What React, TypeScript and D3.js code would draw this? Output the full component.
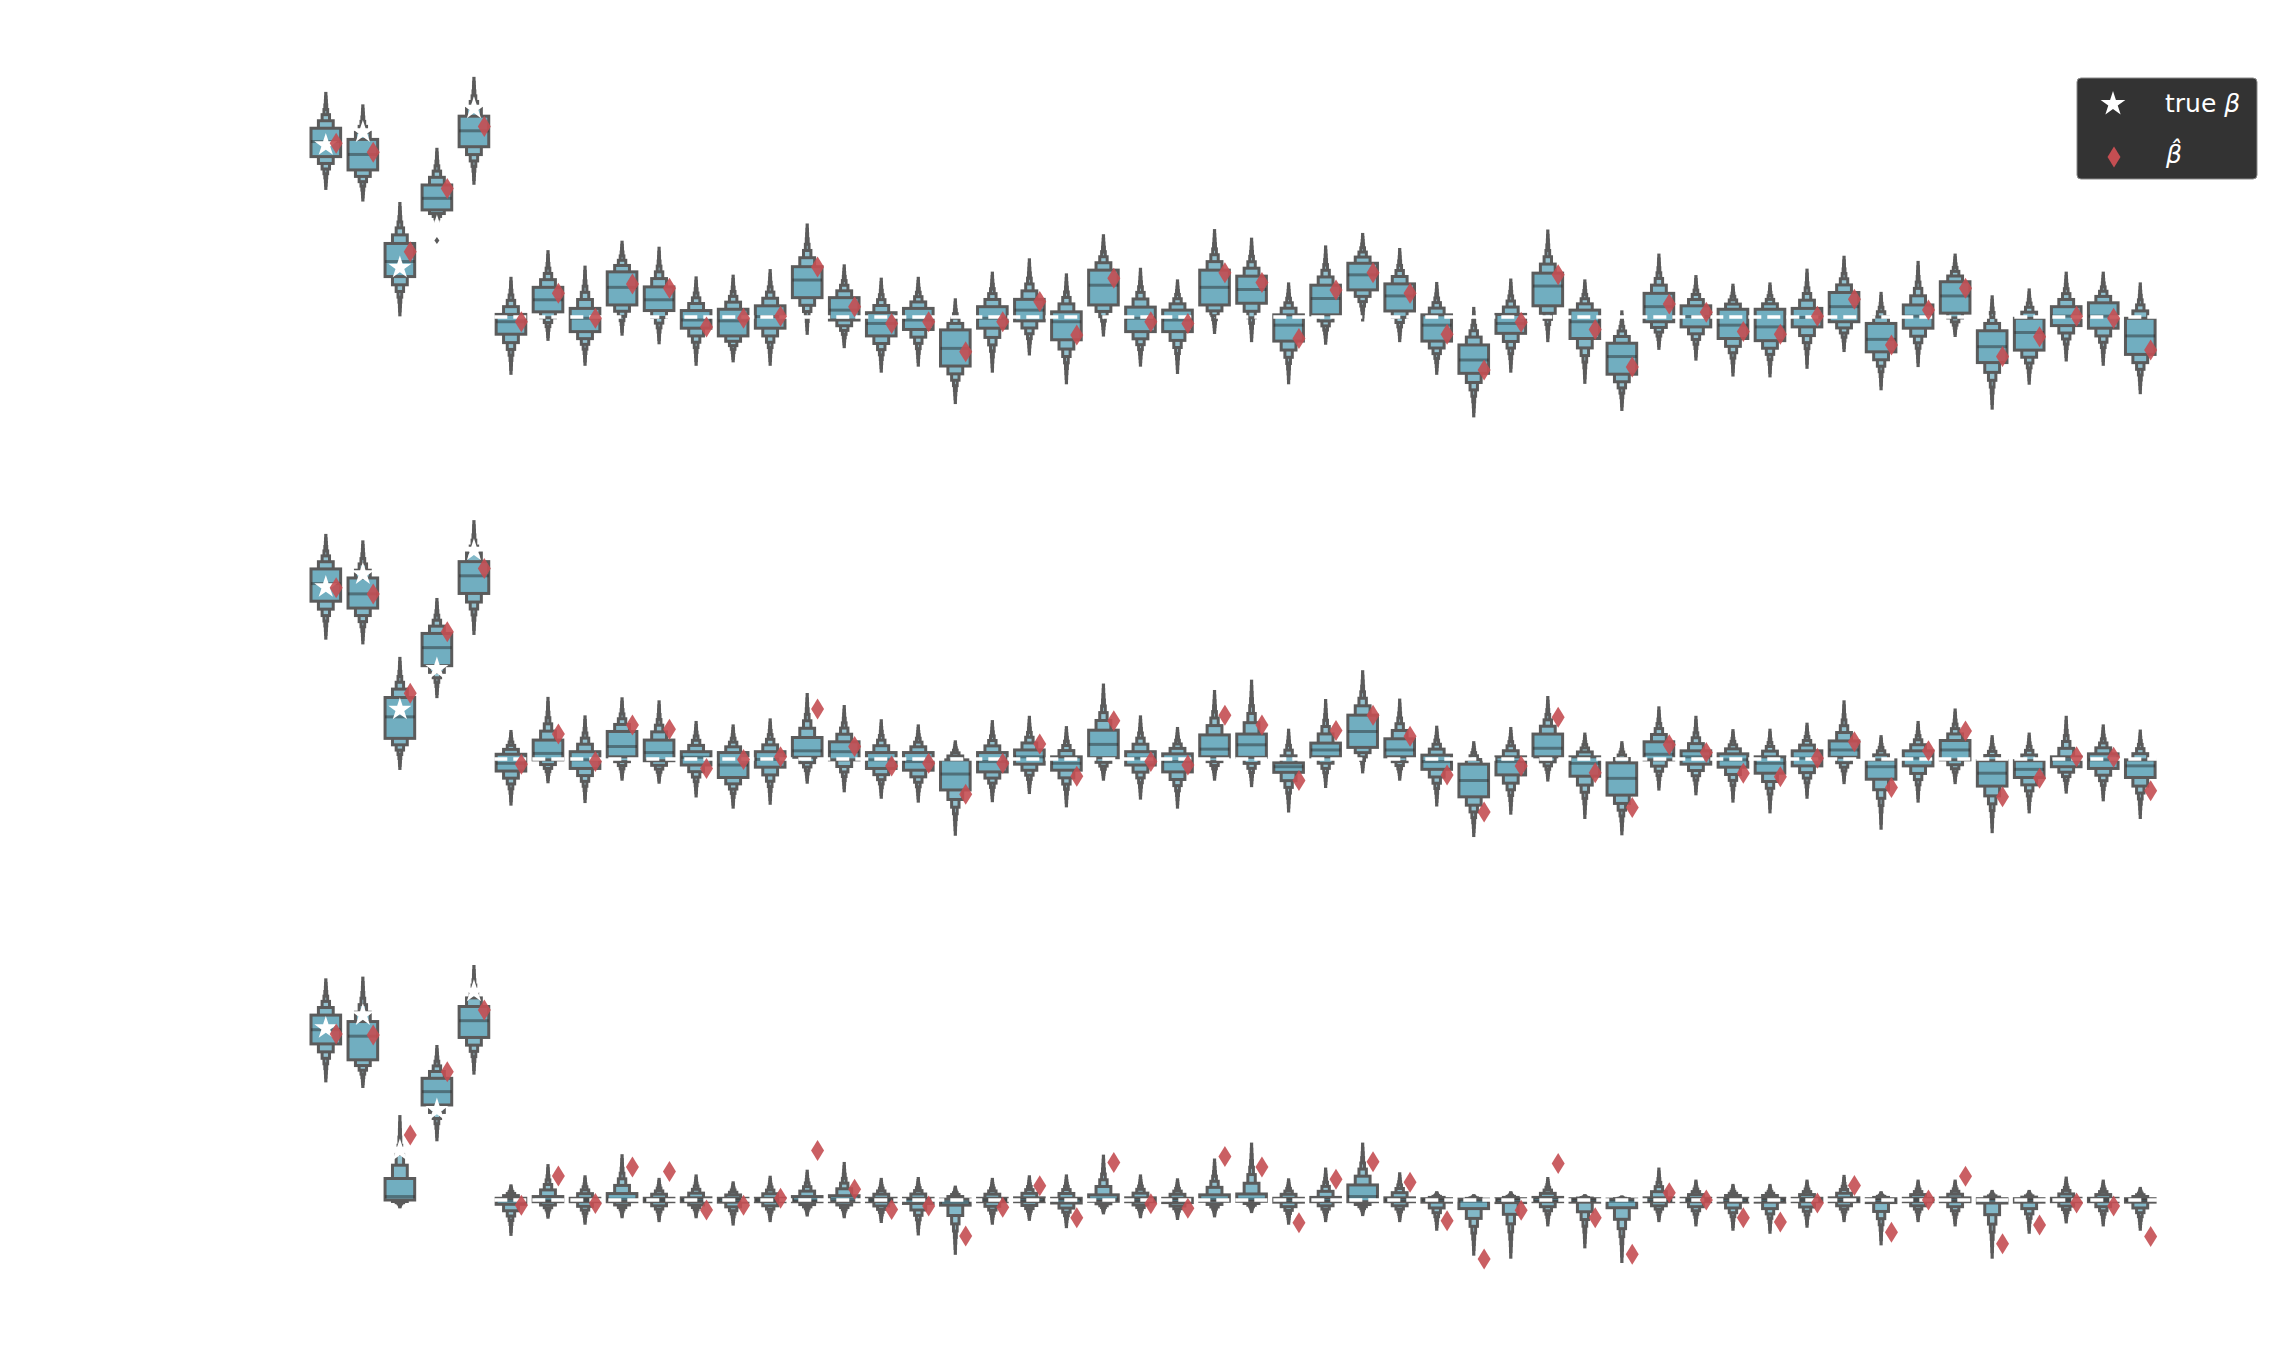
import React from 'react';
import * as d3 from 'd3';

const WIDTH = 2288;
const HEIGHT = 1350;

// true coefficients (white stars); zeros are shown by the dashed white line
const trueBeta = [4.0, 4.3, 1.15, 2.1, 4.85,
  0, 0, 0, 0, 0, 0, 0, 0, 0, 0, 0, 0, 0, 0, 0, 0, 0, 0, 0, 0, 0, 0, 0, 0, 0,
  0, 0, 0, 0, 0, 0, 0, 0, 0, 0, 0, 0, 0, 0, 0, 0, 0, 0, 0, 0];

// ---- panel 1 ----
const p1Lo = [2.99, 2.72, 0.05, 2.10, 3.11, -1.31, -0.52, -1.10, -0.40, -0.60, -1.10, -1.02, -1.10, -0.38, -0.69, -1.26, -1.12, -1.99, -1.26, -0.86, -1.53, -0.42, -1.12, -1.29, -0.36, -0.55, -1.53, -0.61, -0.07, -0.55, -1.31, -2.30, -1.26, -0.55, -1.52, -2.15, -0.73, -0.98, -1.35, -1.37, -1.17, -0.78, -1.67, -1.13, -0.43, -2.12, -1.54, -1.00, -1.10, -1.76];
const p1Q1 = [3.73, 3.42, 0.94, 2.49, 3.96, -0.40, 0.12, -0.34, 0.28, 0.15, -0.26, -0.44, -0.26, 0.45, -0.07, -0.44, -0.29, -1.14, -0.26, -0.09, -0.53, 0.28, -0.34, -0.34, 0.28, 0.32, -0.56, 0.05, 0.63, 0.14, -0.56, -1.31, -0.38, 0.26, -0.50, -1.33, -0.11, -0.23, -0.50, -0.55, -0.23, -0.11, -0.81, -0.26, 0.09, -1.06, -0.77, -0.20, -0.26, -0.87];
const p1Med = [4.08, 3.78, 1.29, 2.76, 4.33, -0.11, 0.40, -0.03, 0.69, 0.40, -0.07, -0.09, 0.01, 0.86, 0.16, -0.15, -0.07, -0.73, -0.03, 0.16, -0.11, 0.74, -0.03, -0.07, 0.69, 0.64, -0.19, 0.43, 0.98, 0.49, -0.19, -1.00, -0.15, 0.72, -0.11, -0.92, 0.24, 0.01, -0.19, -0.23, -0.01, 0.24, -0.52, 0.02, 0.49, -0.69, -0.36, 0.02, 0.02, -0.44];
const p1Q3 = [4.39, 4.13, 1.71, 3.07, 4.67, 0.06, 0.69, 0.20, 1.05, 0.70, 0.15, 0.18, 0.26, 1.17, 0.45, 0.10, 0.20, -0.30, 0.24, 0.41, 0.12, 1.09, 0.23, 0.16, 1.09, 0.95, 0.05, 0.74, 1.25, 0.77, 0.05, -0.65, 0.06, 1.02, 0.16, -0.61, 0.55, 0.26, 0.18, 0.18, 0.20, 0.57, -0.15, 0.28, 0.82, -0.32, -0.03, 0.24, 0.33, -0.03];
const p1Hi = [5.20, 4.91, 2.64, 3.90, 5.55, 0.90, 1.52, 1.16, 1.74, 1.60, 0.91, 0.95, 1.08, 2.14, 1.19, 0.88, 0.90, 0.40, 1.02, 1.33, 0.98, 1.89, 1.11, 0.84, 2.01, 1.81, 0.77, 1.63, 1.92, 1.57, 0.78, 0.20, 0.86, 2.00, 0.84, 0.12, 1.44, 0.94, 0.74, 0.77, 1.09, 1.39, 0.55, 1.27, 1.44, 0.47, 0.63, 1.02, 1.02, 0.77];
const p1Hat = [4.04, 3.83, 1.52, 2.99, 4.43, -0.11, 0.55, -0.03, 0.77, 0.67, -0.23, -0.03, 0.02, 1.16, 0.24, -0.15, -0.11, -0.81, -0.11, 0.36, -0.42, 0.90, -0.11, -0.15, 1.03, 0.80, -0.50, 0.63, 1.03, 0.55, -0.40, -1.23, -0.12, 0.98, -0.29, -1.16, 0.30, 0.11, -0.34, -0.40, 0.02, 0.41, -0.65, 0.16, 0.67, -0.92, -0.46, 0.02, -0.03, -0.77];
const p1Out = [[], [], [], [1.78], [], [], [], [], [], [], [], [], [], [], [], [], [], [], [], [], [], [], [], [], [], [], [], [], [], [], [], [], [], [], [], [], [], [], [], [], [], [], [], [], [], [], [], [], [], []];

// ---- panel 2 ----
const p2Lo = [2.81, 2.70, -0.22, 1.45, 2.92, -1.05, -0.53, -0.99, -0.47, -0.54, -0.86, -1.12, -1.03, -0.54, -0.74, -0.89, -0.98, -1.75, -0.97, -0.78, -1.09, -0.47, -0.91, -1.12, -0.47, -0.62, -1.21, -0.64, -0.30, -0.47, -1.07, -1.78, -1.26, -0.49, -1.36, -1.74, -0.70, -0.81, -0.98, -1.23, -0.89, -0.55, -1.61, -0.98, -0.55, -1.69, -1.23, -0.77, -0.95, -1.36];
const p2Q1 = [3.67, 3.51, 0.48, 2.17, 3.85, -0.28, -0.02, -0.22, 0.05, -0.04, -0.14, -0.43, -0.19, 0.04, -0.02, -0.22, -0.26, -0.72, -0.30, -0.12, -0.26, 0.03, -0.14, -0.30, 0.05, 0.04, -0.31, 0.05, 0.27, 0.05, -0.24, -0.88, -0.37, 0.05, -0.40, -0.84, -0.02, -0.12, -0.19, -0.33, -0.16, 0.04, -0.47, -0.16, -0.02, -0.63, -0.43, -0.18, -0.22, -0.43];
const p2Med = [4.08, 3.84, 0.98, 2.59, 4.26, -0.10, 0.13, -0.02, 0.29, 0.15, 0.04, -0.14, -0.01, 0.19, 0.17, -0.02, -0.06, -0.35, -0.06, 0.05, -0.10, 0.34, 0.02, -0.06, 0.23, 0.33, -0.18, 0.21, 0.64, 0.21, -0.06, -0.50, -0.06, 0.25, -0.10, -0.45, 0.11, 0.05, -0.02, -0.10, 0.02, 0.21, -0.18, 0.02, 0.21, -0.33, -0.24, -0.02, -0.02, -0.16];
const p2Q3 = [4.42, 4.21, 1.43, 2.92, 4.59, 0.11, 0.44, 0.17, 0.64, 0.44, 0.17, 0.15, 0.17, 0.50, 0.40, 0.15, 0.15, -0.02, 0.15, 0.21, 0.05, 0.67, 0.17, 0.12, 0.56, 0.58, -0.09, 0.37, 1.02, 0.47, 0.09, -0.12, 0.05, 0.58, 0.05, -0.09, 0.40, 0.19, 0.12, 0.05, 0.19, 0.42, -0.02, 0.19, 0.43, -0.04, -0.04, 0.05, 0.12, -0.02];
const p2Hi = [5.20, 5.05, 2.34, 3.71, 5.52, 0.64, 1.41, 0.98, 1.40, 1.33, 0.85, 0.77, 0.91, 1.50, 1.22, 0.89, 0.77, 0.40, 0.87, 0.97, 0.73, 1.72, 0.98, 0.71, 1.57, 1.81, 0.67, 1.36, 2.03, 1.37, 0.74, 0.38, 0.71, 1.43, 0.58, 0.38, 1.19, 0.97, 0.66, 0.67, 0.81, 1.33, 0.52, 0.85, 1.14, 0.52, 0.58, 0.97, 0.77, 0.65];
const p2Hat = [3.98, 3.84, 1.53, 2.96, 4.43, -0.12, 0.58, -0.06, 0.79, 0.69, -0.22, -0.01, 0.05, 1.16, 0.29, -0.16, -0.10, -0.82, -0.10, 0.35, -0.40, 0.89, -0.06, -0.14, 1.02, 0.79, -0.50, 0.66, 1.02, 0.53, -0.37, -1.23, -0.16, 0.97, -0.32, -1.13, 0.33, 0.15, -0.33, -0.41, 0.02, 0.40, -0.66, 0.19, 0.65, -0.88, -0.45, 0.05, 0.04, -0.74];

// ---- panel 3 ----
const p3Lo = [2.77, 2.64, -0.16, 1.40, 2.95, -0.80, -0.40, -0.54, -0.39, -0.48, -0.39, -0.56, -0.48, -0.35, -0.39, -0.50, -0.79, -1.24, -0.54, -0.45, -0.62, -0.30, -0.39, -0.43, -0.37, -0.27, -0.54, -0.48, -0.34, -0.48, -0.68, -1.26, -1.33, -0.58, -1.09, -1.43, -0.48, -0.58, -0.68, -0.75, -0.61, -0.48, -1.02, -0.48, -0.58, -1.33, -0.75, -0.51, -0.58, -0.68];
const p3Q1 = [3.63, 3.26, 0.0, 2.21, 3.78, -0.10, -0.04, -0.04, -0.04, -0.04, -0.04, -0.05, -0.04, -0.04, -0.04, -0.04, -0.08, -0.12, -0.04, -0.04, -0.07, -0.03, -0.04, -0.06, -0.03, -0.03, -0.05, -0.04, -0.04, -0.04, -0.05, -0.20, -0.06, -0.04, -0.05, -0.18, -0.04, -0.04, -0.05, -0.05, -0.04, -0.04, -0.06, -0.04, -0.04, -0.07, -0.05, -0.04, -0.04, -0.05];
const p3Med = [3.96, 3.81, 0.08, 2.52, 4.17, -0.02, 0.0, 0.0, 0.02, 0.0, 0.0, 0.0, 0.0, 0.0, 0.02, 0.0, 0.0, -0.05, 0.0, 0.0, 0.0, 0.02, 0.0, 0.0, 0.02, 0.02, 0.0, 0.0, 0.08, 0.0, 0.0, -0.03, 0.0, 0.0, 0.0, -0.03, 0.0, 0.0, 0.0, 0.0, 0.0, 0.0, 0.0, 0.0, 0.0, 0.0, 0.0, 0.0, 0.0, 0.0];
const p3Q3 = [4.30, 4.15, 0.50, 2.83, 4.50, 0.04, 0.08, 0.04, 0.15, 0.04, 0.05, 0.04, 0.04, 0.08, 0.10, 0.04, 0.04, 0.02, 0.04, 0.05, 0.04, 0.12, 0.05, 0.04, 0.12, 0.14, 0.04, 0.06, 0.35, 0.05, 0.03, 0.02, 0.03, 0.06, 0.03, 0.02, 0.05, 0.04, 0.04, 0.04, 0.04, 0.05, 0.03, 0.04, 0.05, 0.03, 0.03, 0.04, 0.04, 0.03];
const p3Hi = [5.12, 5.16, 1.94, 3.57, 5.43, 0.33, 0.80, 0.54, 1.03, 0.48, 0.56, 0.40, 0.53, 0.67, 0.85, 0.48, 0.50, 0.30, 0.48, 0.54, 0.56, 1.02, 0.56, 0.47, 0.93, 1.30, 0.47, 0.72, 1.30, 0.61, 0.17, 0.10, 0.17, 0.50, 0.10, 0.07, 0.72, 0.44, 0.34, 0.34, 0.44, 0.55, 0.17, 0.44, 0.44, 0.20, 0.20, 0.51, 0.44, 0.27];
const p3Hat = [3.86, 3.84, 1.51, 2.98, 4.42, -0.12, 0.56, -0.08, 0.77, 0.66, -0.23, -0.12, 0.04, 1.15, 0.25, -0.22, -0.14, -0.84, -0.17, 0.33, -0.41, 0.87, -0.09, -0.19, 1.01, 0.77, -0.53, 0.48, 0.89, 0.41, -0.48, -1.37, -0.24, 0.85, -0.41, -1.26, 0.17, 0.0, -0.41, -0.51, -0.07, 0.34, -0.75, 0.0, 0.55, -1.02, -0.58, -0.07, -0.14, -0.85];

const panels = [
  { lo: p1Lo, q1: p1Q1, med: p1Med, q3: p1Q3, hi: p1Hi, hat: p1Hat, out: p1Out },
  { lo: p2Lo, q1: p2Q1, med: p2Med, q3: p2Q3, hi: p2Hi, hat: p2Hat, out: [] as number[][] },
  { lo: p3Lo, q1: p3Q1, med: p3Med, q3: p3Q3, hi: p3Hi, hat: p3Hat, out: [] as number[][] },
];

// letter-value levels: position of each level between the quartile and the last letter value
const LEVEL_FRAC = [0, 0.215, 0.389, 0.537, 0.669, 0.788, 0.898, 1];

const BASE = '#71aec0';
const EDGE = '#5b5b5b';
const RED = '#c44e52';
const light = d3.interpolateRgb(BASE, '#ffffff')(0.85);
const levelColor = (j: number) => d3.interpolateRgb(BASE, light)(j / (LEVEL_FRAC.length - 1));

const x = d3.scaleLinear().domain([-0.5, 49.5]).range([307.3, 2158.8]);
const step = x(1) - x(0);
const boxW = step * 0.8;
const zeroY = [317, 759, 1200];
const unit = 43;

const starPath = d3.symbol().type(d3.symbolStar).size(165)() as string;
const legendStar = d3.symbol().type(d3.symbolStar).size(190)() as string;
const diamond = 'M0,-10.5L6.5,0L0,10.5L-6.5,0Z';

function Panel({ k }: { k: number }) {
  const p = panels[k];
  const y = d3.scaleLinear().domain([-3, 6]).range([zeroY[k] + 3 * unit, zeroY[k] - 6 * unit]);
  const zeroIdx = trueBeta.map((b, i) => (b === 0 ? i : -1)).filter(i => i >= 0);
  const z0 = d3.min(zeroIdx) as number;
  const z1 = d3.max(zeroIdx) as number;
  const line = d3.line<number>().x(d => x(d)).y(() => y(0));

  return (
    <g>
      {p.med.map((m, i) => {
        const cx = x(i);
        const rects = LEVEL_FRAC.map((f, j) => {
          const top = p.q3[i] + (p.hi[i] - p.q3[i]) * f;
          const bot = p.q1[i] - (p.q1[i] - p.lo[i]) * f;
          const w = boxW * Math.pow(2, -j);
          return { j, top, bot, w };
        }).reverse();
        return (
          <g key={i}>
            {rects.map(r => (
              <rect key={r.j} x={cx - r.w / 2} width={r.w}
                y={y(r.top)} height={Math.max(0, y(r.bot) - y(r.top))}
                fill={levelColor(r.j)} stroke={EDGE} strokeWidth={3} />
            ))}
            <line x1={cx - boxW / 2} x2={cx + boxW / 2} y1={y(m)} y2={y(m)}
              stroke="#262626" strokeOpacity={0.45} strokeWidth={3} />
            {(p.out[i] || []).map((o, oi) => (
              <path key={oi} d="M0,-3.5L2.5,0L0,3.5L-2.5,0Z" transform={`translate(${cx},${y(o)})`} fill={EDGE} />
            ))}
          </g>
        );
      })}
      <path d={line([z0 - 0.45, z1 + 0.45]) || ''} stroke="#ffffff" strokeWidth={3.5}
        strokeDasharray="13 6" fill="none" />
      {trueBeta.map((b, i) => b !== 0 ? (
        <path key={i} d={starPath} transform={`translate(${x(i)},${y(b)})`} fill="#ffffff" />
      ) : null)}
      {p.hat.map((h, i) => (
        <path key={i} d={diamond} transform={`translate(${x(i + 0.28)},${y(h)})`} fill={RED} fillOpacity={0.9} />
      ))}
    </g>
  );
}

export default function App() {
  return (
    <svg width={WIDTH} height={HEIGHT} style={{ position: 'absolute', left: 0, top: 0, background: '#ffffff' }}
      fontFamily="DejaVu Sans">
      <rect width={WIDTH} height={HEIGHT} fill="#ffffff" />
      {panels.map((_, k) => <Panel key={k} k={k} />)}
      <g>
        <rect x={2077} y={78} width={180} height={101} rx={4} fill="#333333" stroke="#8a8a8a" strokeWidth={1} />
        <path d={legendStar} transform="translate(2113,104)" fill="#ffffff" />
        <text x={2165} y={112} fill="#ffffff" fontSize={25}>true <tspan fontStyle="italic">β</tspan></text>
        <path d={diamond} transform="translate(2114,157)" fill={RED} />
        <text x={2166} y={163} fill="#ffffff" fontSize={25} fontStyle="italic">β̂</text>
      </g>
    </svg>
  );
}
